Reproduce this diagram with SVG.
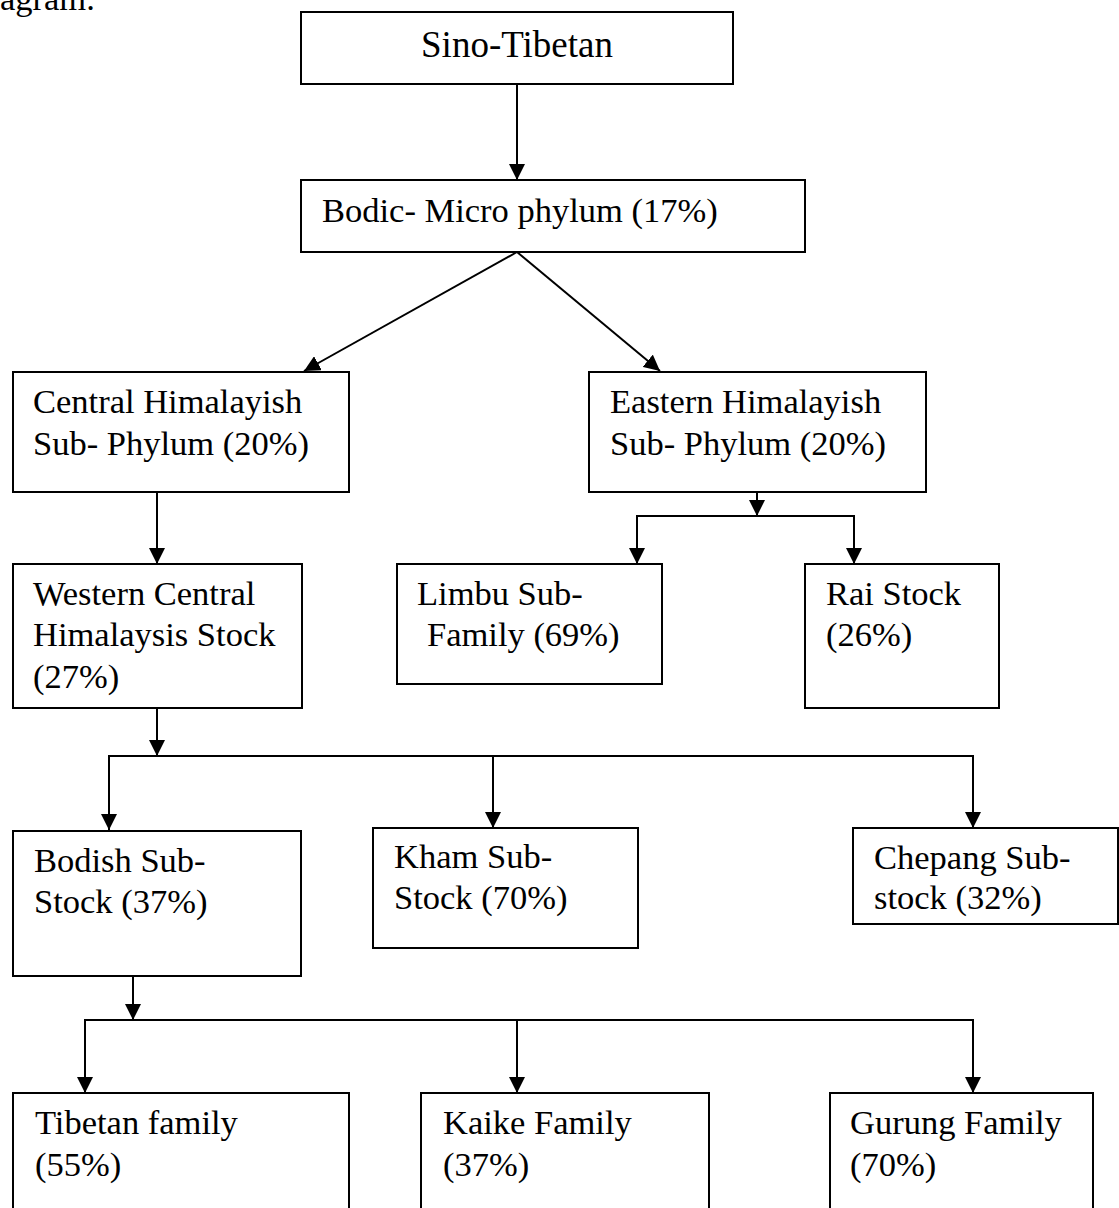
<svg xmlns="http://www.w3.org/2000/svg" width="1119" height="1208" viewBox="0 0 1119 1208">
<style>
  .box { fill: #fff; stroke: #000; stroke-width: 2; }
  .t { font-family: "Liberation Serif", "Times New Roman", serif; font-size: 34.5px; fill: #000; }
  .c { fill: none; stroke: #000; stroke-width: 2; }
</style>
<defs>
  <marker id="ah" markerUnits="userSpaceOnUse" markerWidth="16" markerHeight="16" viewBox="0 0 16 16" refX="16" refY="8" orient="auto">
    <path d="M0,0 L16,8 L0,16 Z" fill="#000"/>
  </marker>
</defs>
<rect width="1119" height="1208" fill="#fff"/>
<text class="t" x="0" y="10">agram.</text>

<g id="connectors">
  <line class="c" x1="517" y1="84" x2="517" y2="180" marker-end="url(#ah)"/>
  <line class="c" x1="517" y1="252" x2="304" y2="371" marker-end="url(#ah)"/>
  <line class="c" x1="517" y1="252" x2="660" y2="371" marker-end="url(#ah)"/>
  <line class="c" x1="157" y1="492" x2="157" y2="564" marker-end="url(#ah)"/>
  <line class="c" x1="757" y1="492" x2="757" y2="516" marker-end="url(#ah)"/>
  <polyline class="c" points="637,564 637,516 854,516 854,564"/>
  <line class="c" x1="637" y1="540" x2="637" y2="564" marker-end="url(#ah)"/>
  <line class="c" x1="854" y1="540" x2="854" y2="564" marker-end="url(#ah)"/>
  <line class="c" x1="157" y1="708" x2="157" y2="756" marker-end="url(#ah)"/>
  <polyline class="c" points="109,830 109,756 973,756 973,828"/>
  <line class="c" x1="109" y1="790" x2="109" y2="830" marker-end="url(#ah)"/>
  <line class="c" x1="493" y1="756" x2="493" y2="828" marker-end="url(#ah)"/>
  <line class="c" x1="973" y1="790" x2="973" y2="828" marker-end="url(#ah)"/>
  <line class="c" x1="133" y1="976" x2="133" y2="1020" marker-end="url(#ah)"/>
  <polyline class="c" points="85,1093 85,1020 973,1020 973,1093"/>
  <line class="c" x1="85" y1="1060" x2="85" y2="1093" marker-end="url(#ah)"/>
  <line class="c" x1="517" y1="1020" x2="517" y2="1093" marker-end="url(#ah)"/>
  <line class="c" x1="973" y1="1060" x2="973" y2="1093" marker-end="url(#ah)"/>
</g>

<g id="sino-tibetan">
  <rect class="box" x="301" y="12" width="432" height="72"/>
  <text class="t" x="517" y="57" text-anchor="middle" style="font-size:37px">Sino-Tibetan</text>
</g>
<g id="bodic">
  <rect class="box" x="301" y="180" width="504" height="72"/>
  <text class="t" x="322" y="222">Bodic- Micro phylum (17%)</text>
</g>
<g id="central-himalayish">
  <rect class="box" x="13" y="372" width="336" height="120"/>
  <text class="t" x="33" y="413">Central Himalayish</text>
  <text class="t" x="33" y="455">Sub- Phylum (20%)</text>
</g>
<g id="eastern-himalayish">
  <rect class="box" x="589" y="372" width="337" height="120"/>
  <text class="t" x="610" y="413">Eastern Himalayish</text>
  <text class="t" x="610" y="455">Sub- Phylum (20%)</text>
</g>
<g id="western-central">
  <rect class="box" x="13" y="564" width="289" height="144"/>
  <text class="t" x="33" y="605">Western Central</text>
  <text class="t" x="33" y="646">Himalaysis Stock</text>
  <text class="t" x="33" y="688">(27%)</text>
</g>
<g id="limbu">
  <rect class="box" x="397" y="564" width="265" height="120"/>
  <text class="t" x="417" y="605">Limbu Sub-</text>
  <text class="t" x="427" y="646">Family (69%)</text>
</g>
<g id="rai">
  <rect class="box" x="805" y="564" width="194" height="144"/>
  <text class="t" x="826" y="605">Rai Stock</text>
  <text class="t" x="826" y="646">(26%)</text>
</g>
<g id="bodish">
  <rect class="box" x="13" y="831" width="288" height="145"/>
  <text class="t" x="34" y="872">Bodish Sub-</text>
  <text class="t" x="34" y="913">Stock (37%)</text>
</g>
<g id="kham">
  <rect class="box" x="373" y="828" width="265" height="120"/>
  <text class="t" x="394" y="868">Kham Sub-</text>
  <text class="t" x="394" y="909">Stock (70%)</text>
</g>
<g id="chepang">
  <rect class="box" x="853" y="828" width="265" height="96"/>
  <text class="t" x="874" y="869">Chepang Sub-</text>
  <text class="t" x="874" y="909">stock (32%)</text>
</g>
<g id="tibetan-family">
  <rect class="box" x="13" y="1093" width="336" height="130"/>
  <text class="t" x="35" y="1134">Tibetan family</text>
  <text class="t" x="35" y="1176">(55%)</text>
</g>
<g id="kaike-family">
  <rect class="box" x="421" y="1093" width="288" height="130"/>
  <text class="t" x="443" y="1134">Kaike Family</text>
  <text class="t" x="443" y="1176">(37%)</text>
</g>
<g id="gurung-family">
  <rect class="box" x="830" y="1093" width="263" height="130"/>
  <text class="t" x="850" y="1134">Gurung Family</text>
  <text class="t" x="850" y="1176">(70%)</text>
</g>
</svg>
